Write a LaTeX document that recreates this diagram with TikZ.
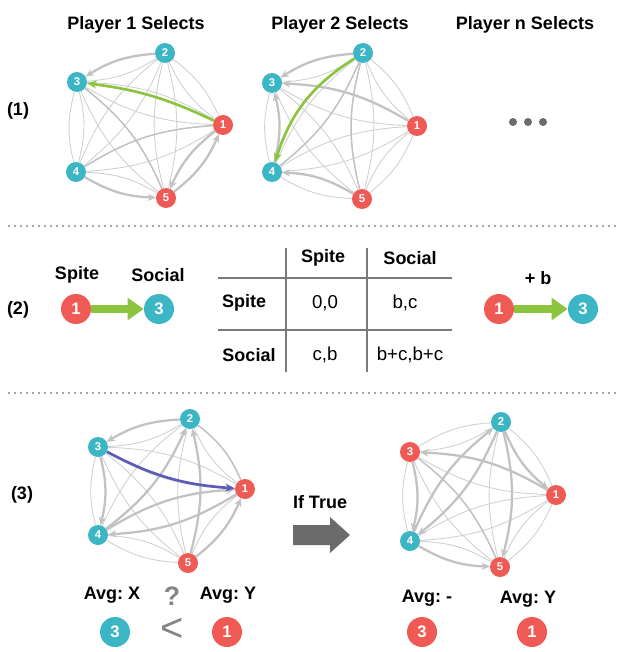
\documentclass[tikz,border=0pt]{standalone}
\usepackage{fontspec}
\setmainfont{Liberation Sans}
\usetikzlibrary{arrows.meta,backgrounds}
\definecolor{tealc}{HTML}{3CB6C4}
\definecolor{redc}{HTML}{F05A55}
\definecolor{greenc}{HTML}{8CC43F}
\definecolor{bluec}{HTML}{5A5CB5}
\definecolor{edgec}{HTML}{D0D0D0}
\definecolor{thickc}{HTML}{C2C2C2}
\definecolor{tablec}{HTML}{7A7A7A}
\definecolor{darkgrayc}{HTML}{6B6B6B}
\definecolor{ltc}{HTML}{858585}
\definecolor{dotc}{HTML}{A8A8A8}
\frenchspacing
\begin{document}
\begin{tikzpicture}[x=0.75pt,y=-0.75pt,
  gnode/.style={circle,inner sep=0pt,minimum size=15pt,text=white,font=\bfseries\fontsize{8.5}{8.5}\selectfont},
  bignode/.style={circle,inner sep=0pt,minimum size=22.5pt,text=white,font=\bfseries\fontsize{12.5}{12.5}\selectfont},
  rc/.style={fill=redc}, tc/.style={fill=tealc},
  lbl/.style={font=\bfseries\fontsize{13.5}{13.5}\selectfont,inner sep=0pt},
  cell/.style={font=\fontsize{14}{14}\selectfont,inner sep=0pt},
  thinedge/.style={draw=edgec,line width=0.65pt},
  thickedge/.style={draw=thickc,line width=1.7pt,-{Stealth[length=6pt,width=5.5pt]}},
  medge/.style={draw=thickc,line width=1.1pt},
  greenedge/.style={draw=greenc,line width=2pt,-{Stealth[length=7pt,width=6pt]}},
  blueedge/.style={draw=bluec,line width=2pt,-{Stealth[length=7pt,width=6pt]}},
  bigarrow/.style={draw=greenc,line width=6pt,-{Triangle[length=12pt,width=16pt]}},
  tableline/.style={draw=tablec,line width=1.2pt},
  sepline/.style={draw=dotc,line width=1.2pt,dash pattern=on 1.2pt off 3.3pt}
]
\useasboundingbox (0,0) rectangle (620,652);

% ---------- titles ----------
\node[lbl] (t1) at (136,25) {Player 1 Selects};
\node[lbl] (t2) at (340,25) {Player 2 Selects};
\node[lbl] (t3) at (525,25) {Player n Selects};
\node[lbl] (l1) at (18,111) {(1)};
\node[lbl] (l2) at (18,310) {(2)};
\node[lbl] (l3) at (22,495) {(3)};

% ---------- graph A ----------
\node[gnode,rc] (a1) at (223,125) {1};
\node[gnode,tc] (a2) at (165,53) {2};
\node[gnode,tc] (a3) at (77,82) {3};
\node[gnode,tc] (a4) at (76,172) {4};
\node[gnode,rc] (a5) at (166,198) {5};
% ---------- graph B ----------
\node[gnode,rc] (b1) at (417,126) {1};
\node[gnode,tc] (b2) at (363,53) {2};
\node[gnode,tc] (b3) at (272,83) {3};
\node[gnode,tc] (b4) at (272,172) {4};
\node[gnode,rc] (b5) at (362,199) {5};
% ---------- graph C ----------
\node[gnode,rc] (c1) at (245,489) {1};
\node[gnode,tc] (c2) at (190,419) {2};
\node[gnode,tc] (c3) at (98,447) {3};
\node[gnode,tc] (c4) at (98,535) {4};
\node[gnode,rc] (c5) at (188,563) {5};
% ---------- graph D ----------
\node[gnode,rc] (d1) at (556,495) {1};
\node[gnode,tc] (d2) at (501,422) {2};
\node[gnode,rc] (d3) at (410,452) {3};
\node[gnode,tc] (d4) at (410,541) {4};
\node[gnode,rc] (d5) at (500,567) {5};

% dots
\node[circle,fill=darkgrayc,minimum size=6pt,inner sep=0pt] (dt1) at (513,122) {};
\node[circle,fill=darkgrayc,minimum size=6pt,inner sep=0pt] (dt2) at (528,122) {};
\node[circle,fill=darkgrayc,minimum size=6pt,inner sep=0pt] (dt3) at (543,122) {};

\begin{scope}[on background layer]
\foreach \g in {a,b,c,d}{
  \foreach \i/\j in {1/2,1/3,1/4,1/5,2/3,2/4,2/5,3/4,3/5,4/5}{
    \draw[thinedge] (\g\i) to[bend left=14] (\g\j);
    \draw[thinedge] (\g\i) to[bend right=14] (\g\j);
  }
}
% graph A heavy edges
\draw[thickedge] (a2) to[bend right=14] (a3);
\draw[thickedge] (a1) to[bend right=14] (a5);
\draw[thickedge] (a5) to[bend right=14] (a1);
\draw[thickedge] (a4) to[bend right=14] (a5);
\draw[medge] (a3) to[bend left=14] (a5);
\draw[medge] (a4) to[bend left=14] (a1);
% graph B heavy edges
\draw[thickedge] (b2) to[bend right=14] (b3);
\draw[thickedge] (b1) to[bend right=14] (b3);
\draw[thickedge] (b4) to[bend right=14] (b3);
\draw[thickedge] (b5) to[bend right=14] (b4);
\draw[medge] (b2) to[bend left=14] (b4);
\draw[medge] (b5) to[bend left=14] (b2);
% graph C heavy edges
\draw[thickedge] (c2) to[bend right=14] (c3);
\draw[thickedge] (c4) to[bend right=14] (c2);
\draw[thickedge] (c5) to[bend right=14] (c2);
\draw[thickedge] (c5) to[bend right=14] (c1);
\draw[thickedge] (c4) to[bend left=14] (c1);
\draw[thickedge] (c1) to[bend left=14] (c4);
\draw[thickedge] (c3) to[bend left=14] (c4);
\draw[medge] (c2) to[bend left=14] (c1);
% graph D heavy edges
\draw[thickedge] (d1) to[bend right=14] (d3);
\draw[thickedge] (d2) to[bend right=14] (d1);
\draw[thickedge] (d3) to[bend left=14] (d4);
\draw[thickedge] (d2) to[bend left=14] (d4);
\draw[thickedge] (d4) to[bend left=14] (d2);
\draw[thickedge] (d2) to[bend left=14] (d5);
\draw[thickedge] (d4) to[bend right=14] (d5);
\draw[medge] (d3) to[bend left=14] (d5);
% highlighted edges
\draw[greenedge] (a1) to[bend right=9] (a3);
\draw[greenedge] (b2) to[bend right=20] (b4);
\draw[blueedge] (c3) to[bend right=12] (c1);
\end{scope}

% ---------- separators ----------
\coordinate (s1a) at (8,226); \coordinate (s1b) at (617,226);
\coordinate (s2a) at (8,393); \coordinate (s2b) at (617,393);
\draw[sepline] (s1a) -- (s1b);
\draw[sepline] (s2a) -- (s2b);

% ---------- row 2 ----------
\node[lbl] (sp1) at (77,275) {Spite};
\node[lbl] (so1) at (158,275) {Social};
\node[bignode,rc] (r1) at (76,309) {1};
\node[bignode,tc] (r3) at (159,309) {3};
\draw[bigarrow] (r1) -- (r3);

\coordinate (h1a) at (218,278); \coordinate (h1b) at (452,278);
\coordinate (h2a) at (218,330); \coordinate (h2b) at (452,330);
\coordinate (v1a) at (286,248); \coordinate (v1b) at (286,372);
\coordinate (v2a) at (367,248); \coordinate (v2b) at (367,372);
\draw[tableline] (h1a) -- (h1b);
\draw[tableline] (h2a) -- (h2b);
\draw[tableline] (v1a) -- (v1b);
\draw[tableline] (v2a) -- (v2b);
\node[lbl] (hsp) at (323,258) {Spite};
\node[lbl] (hso) at (410,258) {Social};
\node[lbl] (rsp) at (244,303) {Spite};
\node[lbl] (rso) at (249,355) {Social};
\node[cell] (c00) at (325,303) {0,0};
\node[cell] (c01) at (405,303) {b,c};
\node[cell] (c10) at (325,355) {c,b};
\node[cell] (c11) at (410,355) {b+c,b+c};

\node[lbl] (pb) at (538,278) {+ b};
\node[bignode,rc] (q1) at (499,309) {1};
\node[bignode,tc] (q3) at (583,309) {3};
\draw[bigarrow] (q1) -- (q3);

% ---------- row 3 ----------
\node[lbl] (avx) at (112,595) {Avg: X};
\node[font=\bfseries\fontsize{20}{20}\selectfont,text=ltc,inner sep=0pt] (qm) at (172,596) {?};
\node[lbl] (avy) at (228,595) {Avg: Y};
\node[bignode,tc] (e3) at (115,632) {3};
\node[font=\fontsize{30}{30}\selectfont,text=ltc,inner sep=0pt] (lt) at (172,630) {<};
\node[bignode,rc] (e1) at (227,632) {1};

\node[lbl] (iftrue) at (320,502) {If True};
\fill[darkgrayc] (293,525) -- (330,525) -- (330,517) -- (350,535) -- (330,553) -- (330,545) -- (293,545) -- cycle;

\node[lbl] (avm) at (427,598) {Avg: -};
\node[lbl] (avy2) at (528,599) {Avg: Y};
\node[bignode,rc] (f3) at (422,632) {3};
\node[bignode,rc] (f1) at (532,632) {1};
\end{tikzpicture}
\end{document}
